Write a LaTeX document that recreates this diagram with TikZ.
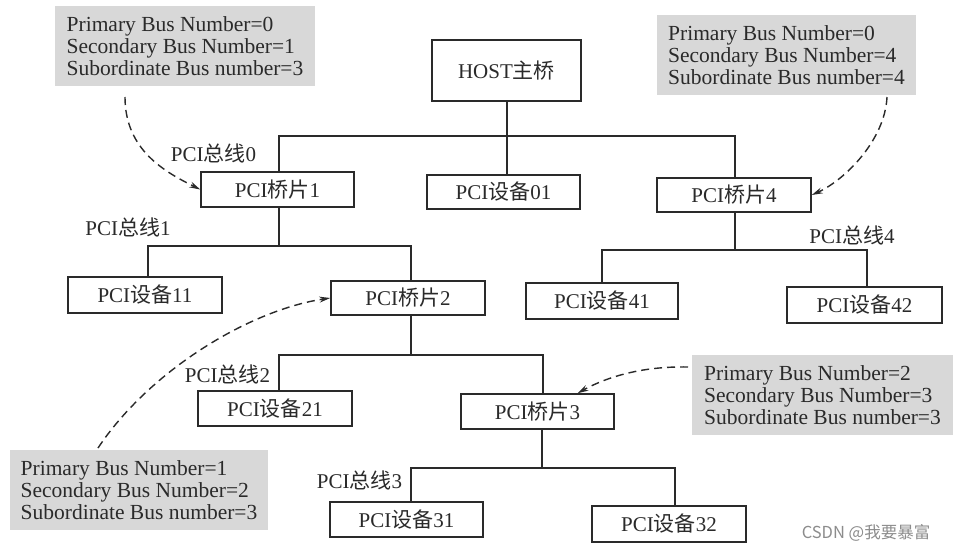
\documentclass[tikz,border=0pt]{standalone}
\usepackage{fontspec}
\setmainfont{Liberation Serif}
\newfontfamily\cjk{Noto Sans CJK SC}
\usetikzlibrary{arrows.meta}
\definecolor{ink}{HTML}{2A2A2A}
\definecolor{annotgray}{HTML}{D8D8D8}
\begin{document}
\begin{tikzpicture}[x=1pt,y=-1pt,
  box/.style={draw=ink, line width=1.5pt, inner sep=0pt, text=ink,
    font=\fontsize{21}{22}\selectfont},
  busl/.style={inner sep=0pt, text=ink, font=\fontsize{21}{22}\selectfont},
  annot/.style={fill=annotgray, inner sep=0pt, text=ink, align=left,
    font=\fontsize{21.5}{21.7}\selectfont},
  conn/.style={draw=ink, line width=1.2pt},
  dasharrow/.style={draw=ink, line width=1.4pt, dash pattern=on 8pt off 5pt,
    -{Stealth[length=11pt,width=6pt]}}]
\useasboundingbox (0,0) rectangle (954,552);
\fill[white] (0,0) rectangle (954,552);

% annotation boxes
\node[annot, minimum width=260pt, minimum height=80pt] (a1) at (185,46)
  {Primary Bus Number=0\\Secondary Bus Number=1\\Subordinate Bus number=3};
\node[annot, minimum width=259pt, minimum height=80pt] (a2) at (786.5,55)
  {Primary Bus Number=0\\Secondary Bus Number=4\\Subordinate Bus number=4};
\node[annot, minimum width=258pt, minimum height=80pt] (a3) at (139,490)
  {Primary Bus Number=1\\Secondary Bus Number=2\\Subordinate Bus number=3};
\node[annot, minimum width=261pt, minimum height=80pt] (a4) at (822.5,395)
  {Primary Bus Number=2\\Secondary Bus Number=3\\Subordinate Bus number=3};

% boxes
\node[box, minimum width=149pt, minimum height=61pt] (host) at (506.5,70.5) {HOST{\cjk 主桥}};
\node[box, minimum width=153pt, minimum height=34pt] (d01) at (503.5,192) {PCI{\cjk 设备}01};
\node[box, minimum width=153pt, minimum height=35pt] (b1) at (277.5,189.5) {PCI{\cjk 桥片}1};
\node[box, minimum width=154pt, minimum height=34pt] (b4) at (734,195) {PCI{\cjk 桥片}4};
\node[box, minimum width=154pt, minimum height=36pt] (d11) at (145,295) {PCI{\cjk 设备}11};
\node[box, minimum width=154pt, minimum height=34pt] (b2) at (408,298) {PCI{\cjk 桥片}2};
\node[box, minimum width=152pt, minimum height=36pt] (d41) at (602,301) {PCI{\cjk 设备}41};
\node[box, minimum width=155pt, minimum height=36pt] (d42) at (864.5,305) {PCI{\cjk 设备}42};
\node[box, minimum width=154pt, minimum height=35pt] (d21) at (275,408.5) {PCI{\cjk 设备}21};
\node[box, minimum width=153pt, minimum height=35pt] (b3) at (537.5,411.5) {PCI{\cjk 桥片}3};
\node[box, minimum width=153pt, minimum height=35pt] (d31) at (406.5,519.5) {PCI{\cjk 设备}31};
\node[box, minimum width=154pt, minimum height=36pt] (d32) at (669,524) {PCI{\cjk 设备}32};

% bus labels
\node[busl] (l0) at (213.5,153) {PCI{\cjk 总线}0};
\node[busl] (l1) at (128,227) {PCI{\cjk 总线}1};
\node[busl] (l4) at (852,235) {PCI{\cjk 总线}4};
\node[busl] (l2) at (227.5,374) {PCI{\cjk 总线}2};
\node[busl] (l3) at (359.5,480) {PCI{\cjk 总线}3};

% junction coordinates
\coordinate (j0) at (735,136);
\coordinate (j1) at (411,246);
\coordinate (j4) at (867,250);
\coordinate (j2) at (543,355);
\coordinate (j3) at (675,468);

% connectors
\draw[conn] ([xshift=0.5pt]host.south) -- ([xshift=3.5pt]d01.north);
\draw[conn] ([xshift=1.5pt]b1.north) |- (j0) -- ([xshift=1pt]b4.north);
\draw[conn] ([xshift=1.5pt]b1.south) -- ([xshift=1.5pt]b1.south |- j1);
\draw[conn] ([xshift=3pt]d11.north) |- (j1) -- ([xshift=3pt]b2.north);
\draw[conn] ([xshift=1pt]b4.south) -- ([xshift=1pt]b4.south |- j4);
\draw[conn] (d41.north) |- (j4) -- ([xshift=2.5pt]d42.north);
\draw[conn] ([xshift=3pt]b2.south) -- ([xshift=3pt]b2.south |- j2);
\draw[conn] ([xshift=4pt]d21.north) |- (j2) -- ([xshift=5.5pt]b3.north);
\draw[conn] ([xshift=4.5pt]b3.south) -- ([xshift=4.5pt]b3.south |- j3);
\draw[conn] ([xshift=4.5pt]d31.north) |- (j3) -- ([xshift=6pt]d32.north);

% dashed annotation arrows
\coordinate (s1) at (125,97);
\coordinate (s2) at (887,97);
\coordinate (s3) at (98,448);
\coordinate (s4) at (688,367);
\draw[dasharrow] (s1) .. controls (125,150) and (165,172) .. (b1.west);
\draw[dasharrow] (s2) .. controls (885,140) and (845,180) .. (b4.east);
\draw[dasharrow] (s3) .. controls (150,370) and (250,310) .. (b2.west);
\draw[dasharrow] (s4) .. controls (640,366) and (605,378) .. ([xshift=40pt]b3.north);

% watermark
\node[inner sep=0pt, text=black!45, font=\cjk\fontsize{16.5}{17}\selectfont] (wm) at (866,533) {CSDN @我要暴富};
\end{tikzpicture}
\end{document}
